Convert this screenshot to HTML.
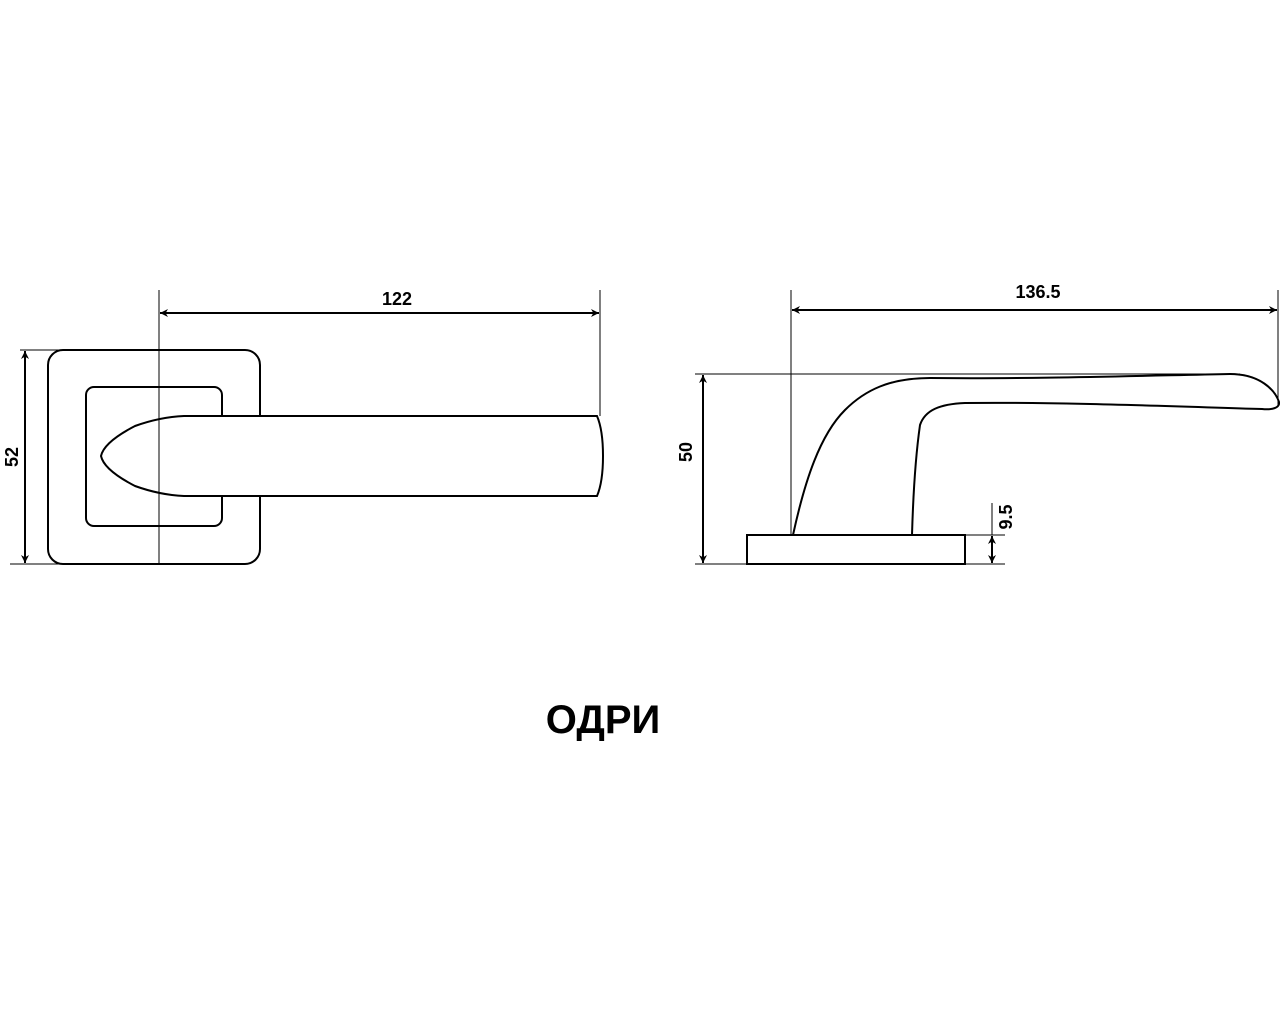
<!DOCTYPE html>
<html><head><meta charset="utf-8"><style>
html,body{margin:0;padding:0;background:#fff;width:1280px;height:1024px;overflow:hidden}
svg{display:block}
text{font-family:"Liberation Sans","DejaVu Sans",sans-serif;fill:#000}
</style></head><body>
<svg width="1280" height="1024" viewBox="0 0 1280 1024">
<defs>
<marker id="a" viewBox="0 0 10 10" refX="10" refY="5" markerWidth="12" markerHeight="8" orient="auto-start-reverse" markerUnits="userSpaceOnUse"><path d="M0,0 L10,5 L0,10 L3,5 z" fill="#000"/></marker>
</defs>
<g fill="none" stroke="#000" stroke-width="2">
<rect x="48" y="350" width="212" height="214" rx="15"/>
<rect x="86" y="387" width="136" height="139" rx="8"/>
<path d="M184,416 L597,416 Q603,430 603,456 Q603,482 597,496 L184,496 Q160,495 135,486 Q104,470 101,456 Q104,442 135,426 Q160,417 184,416 Z" fill="#fff"/>
</g>
<g stroke="#000" stroke-width="1" fill="none">
<line x1="159" y1="290" x2="159" y2="564"/>
<line x1="600" y1="290" x2="600" y2="416"/>
<line x1="20" y1="350" x2="62" y2="350"/>
<line x1="10" y1="564" x2="62" y2="564"/>
</g>
<line x1="160" y1="313" x2="599" y2="313" stroke="#000" stroke-width="2" marker-start="url(#a)" marker-end="url(#a)"/>
<line x1="25" y1="351" x2="25" y2="563" stroke="#000" stroke-width="2" marker-start="url(#a)" marker-end="url(#a)"/>
<text x="397" y="305" font-size="18" font-weight="bold" text-anchor="middle">122</text>
<text transform="translate(18,457) rotate(-90)" font-size="18" font-weight="bold" text-anchor="middle">52</text>

<g stroke="#000" stroke-width="1" fill="none">
<line x1="791" y1="290" x2="791" y2="535"/>
<line x1="1278" y1="290" x2="1278" y2="405"/>
<line x1="695" y1="374" x2="1240" y2="374"/>
<line x1="695" y1="564" x2="1005" y2="564"/>
<line x1="965" y1="535" x2="1005" y2="535"/>
<line x1="992" y1="503" x2="992" y2="535"/>
</g>
<g fill="none" stroke="#000" stroke-width="2">
<rect x="747" y="535" width="218" height="29"/>
<path d="M793,535 C805,480 820,435 845,410 C865,390 890,378 930,378 C1030,379 1130,376 1230,374 C1260,374 1275,390 1279,402 C1280,408 1272,410 1262,409 C1160,406 1060,402 965,403 C940,404 925,410 920,425 C915,460 913,500 912,535"/>
</g>
<line x1="792" y1="310" x2="1277" y2="310" stroke="#000" stroke-width="2" marker-start="url(#a)" marker-end="url(#a)"/>
<line x1="703" y1="375" x2="703" y2="563" stroke="#000" stroke-width="2" marker-start="url(#a)" marker-end="url(#a)"/>
<line x1="992" y1="536" x2="992" y2="563" stroke="#000" stroke-width="2" marker-start="url(#a)" marker-end="url(#a)"/>
<text x="1038" y="298" font-size="18" font-weight="bold" text-anchor="middle">136.5</text>
<text transform="translate(692,452) rotate(-90)" font-size="18" font-weight="bold" text-anchor="middle">50</text>
<text transform="translate(1012,517) rotate(-90)" font-size="18" font-weight="bold" text-anchor="middle">9.5</text>

<text x="603" y="733" font-size="40" font-weight="bold" text-anchor="middle">ОДРИ</text>
</svg>
</body></html>
